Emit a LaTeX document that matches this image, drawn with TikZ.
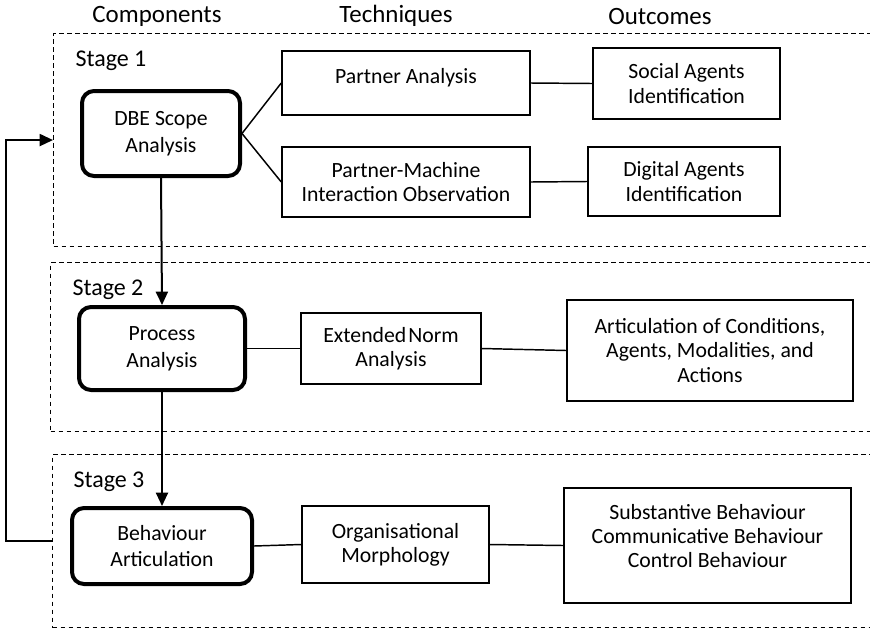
\documentclass[tikz,border=0pt]{standalone}
\usepackage{fontspec}
\setmainfont{Carlito}
\usetikzlibrary{arrows.meta}

\tikzset{every picture/.style={line width=0.75pt}}
\tikzset{
  comp/.style={draw, line width=3pt, rounded corners=9pt, align=center, inner sep=0pt, font=\fontsize{16.3}{20}\selectfont},
  tech/.style={draw, line width=1.1pt, align=center, inner sep=0pt, font=\fontsize{16.3}{18.2}\selectfont},
  outc/.style={tech, line width=1.6pt},
  stageframe/.style={draw, dash pattern=on 3.5pt off 2.5pt, line width=0.8pt, anchor=north west, inner sep=0pt},
  stagelabel/.style={anchor=west, inner sep=0pt, font=\fontsize{18}{21}\selectfont},
  colhead/.style={inner sep=0pt, font=\fontsize{18.7}{22}\selectfont},
  flow/.style={line width=1.5pt, -{Triangle[length=10pt,width=9pt]}},
  link/.style={line width=1.1pt},
}

\begin{document}
\begin{tikzpicture}[x=0.75pt,y=0.75pt,yscale=-1,xscale=1]
\useasboundingbox (0,0) rectangle (870,629);

% Column headers
\node[colhead] (hcomp) at (157,16) {Components};
\node[colhead] (htech) at (396,16) {Techniques};
\node[colhead] (hout) at (660,16) {Outcomes};

%Shape: Stage frames
\node[stageframe, minimum width=620pt, minimum height=159.75pt] (stage1) at (53,33) {};
\node[stageframe, minimum width=622.5pt, minimum height=126.75pt] (stage2) at (50,262) {};
\node[stageframe, minimum width=621pt, minimum height=129.75pt] (stage3) at (52,454) {};

% Text Node
\node[stagelabel] (lbl1) at (75,61) {Stage 1};
% Text Node
\node[stagelabel] (lbl2) at (72,290) {Stage 2};
% Text Node
\node[stagelabel] (lbl3) at (73,482) {Stage 3};

%Stage 1
\node[comp, minimum width=118.5pt, minimum height=63.75pt] (dbe) at (161,133.5) {DBE Scope\\Analysis};
\node[tech, minimum width=186pt, minimum height=48pt] (pa) at (406,83) {Partner Analysis\\[-13pt]\strut};
\node[tech, minimum width=186pt, minimum height=52.5pt] (pmi) at (406,182) {Partner-Machine\\Interaction Observation};
\node[outc, minimum width=140pt, minimum height=53pt] (social) at (686.5,83.5) {Social Agents\\Identification};
\node[outc, minimum width=144pt, minimum height=51.75pt] (digital) at (684,181.5) {Digital Agents\\Identification};

%Stage 2
\node[comp, minimum width=124.5pt, minimum height=62.25pt] (proc) at (162,348.5) {Process\\Analysis};
\node[tech, minimum width=135pt, minimum height=53.25pt] (ext) at (391,348.5) {Extended\hspace{1.5pt}Norm\\Analysis};
\node[tech, minimum width=214.5pt, minimum height=75.75pt] (artic) at (710,350.5) {Articulation of Conditions,\\Agents, Modalities, and\\Actions};

%Stage 3
\node[comp, minimum width=135pt, minimum height=57pt] (beh) at (162,546) {Behaviour\\Articulation};
\node[tech, minimum width=140.25pt, minimum height=57.75pt] (org) at (395.5,544.5) {Organisational\\Morphology};
\node[tech, minimum width=215.25pt, minimum height=86.25pt] (subst) at (707.5,545.5) {Substantive Behaviour\\Communicative Behaviour\\Control Behaviour\\[-9pt]\strut};

%Straight Lines
\draw[link] (dbe.east) -- (pa.west);
\draw[link] (dbe.east) -- (pmi.west);
\draw[link] (pa.east) -- (social.west);
\draw[link] (pmi.east) -- (digital.west);
\draw[link] (proc.east) -- (ext.west);
\draw[link] (ext.east) -- (artic.west);
\draw[link] (beh.east) -- (org.west);
\draw[link] (org.east) -- (subst.west);

%Arrows
\draw[flow] (dbe.south) -- (proc.north);
\draw[flow] (proc.south) -- (beh.north);
\draw[flow] (stage3.west) -- ++(-46,0) |- (stage1.west);

\end{tikzpicture}
\end{document}
